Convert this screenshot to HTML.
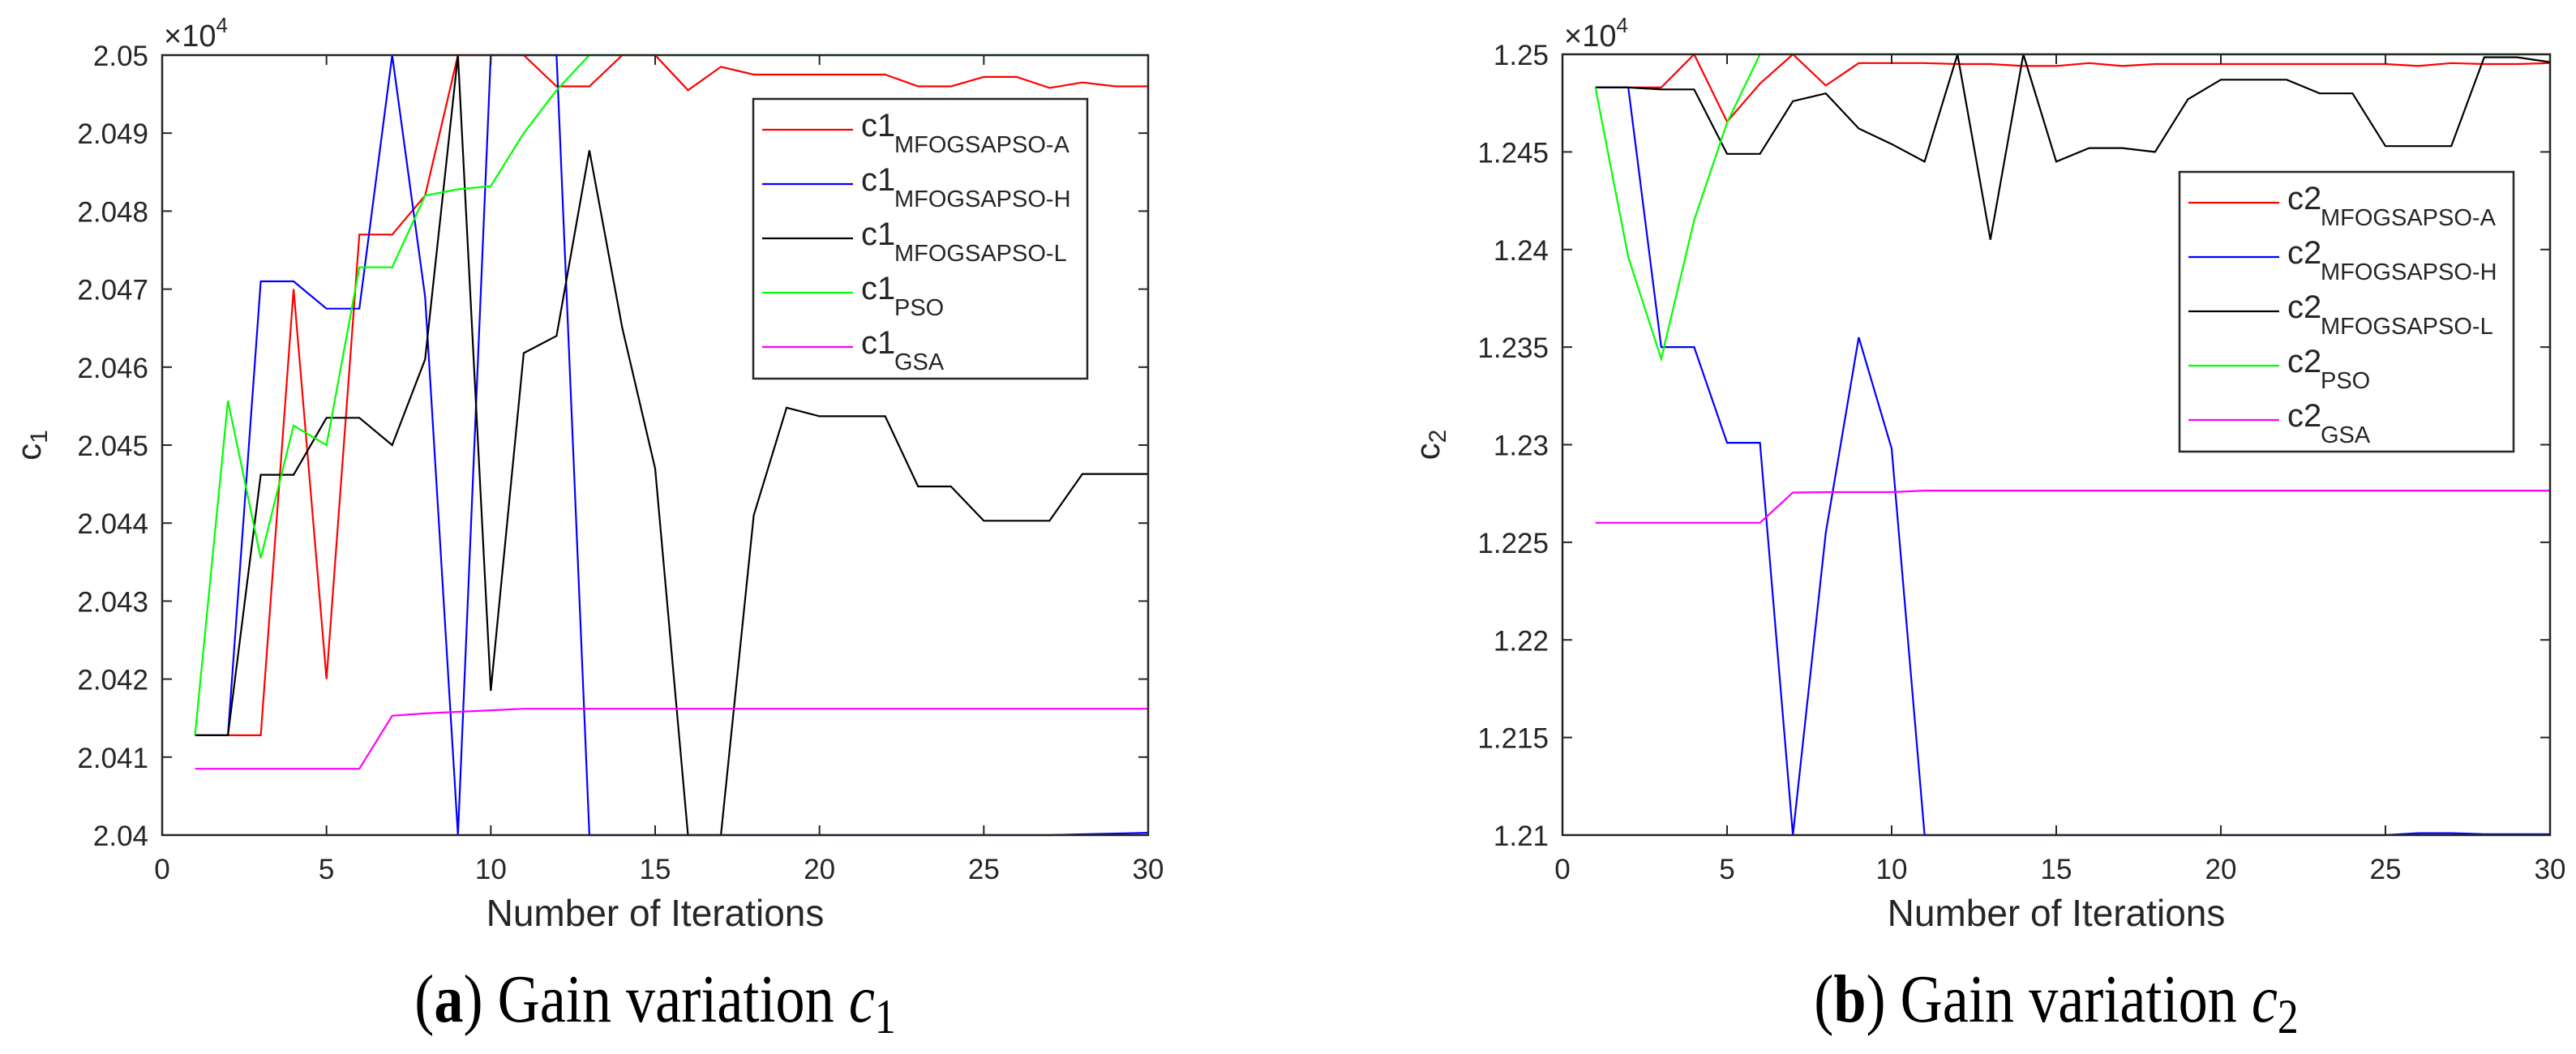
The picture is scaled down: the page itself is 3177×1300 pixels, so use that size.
<!DOCTYPE html>
<html><head><meta charset="utf-8"><style>
html,body{margin:0;padding:0;background:#fff;}
svg{display:block;}
</style></head><body>
<svg id="fig" width="3177" height="1300" viewBox="0 0 3177 1300" xmlns="http://www.w3.org/2000/svg" font-family="Liberation Sans, Arial, sans-serif"></svg>
<script>
const iterations = [1,2,3,4,5,6,7,8,9,10,11,12,13,14,15,16,17,18,19,20,21,22,23,24,25,26,27,28,29,30];
const c1A = [2.04128,2.04128,2.04128,2.0470,2.0420,2.0477,2.0477,2.0482,2.0500,2.0500,2.0500,2.0496,2.0496,2.0500,2.0500,2.04955,2.04985,2.04975,2.04975,2.04975,2.04975,2.04975,2.0496,2.0496,2.04972,2.04972,2.04958,2.04965,2.0496,2.0496];
const c1H = [2.04128,2.04128,2.0471,2.0471,2.04675,2.04675,2.0500,2.0469,2.0400,2.0500,2.0500,2.0500,2.0400,2.0400,2.0400,2.0400,2.0400,2.0400,2.0400,2.0400,2.0400,2.0400,2.0400,2.0400,2.0400,2.0400,2.0400,2.04001,2.04002,2.04003];
const c1L = [2.04128,2.04128,2.04462,2.04462,2.04535,2.04535,2.0450,2.0461,2.0500,2.04185,2.04618,2.0464,2.04878,2.0465,2.0447,2.0400,2.0400,2.0441,2.04548,2.04537,2.04537,2.04537,2.04447,2.04447,2.04403,2.04403,2.04403,2.04463,2.04463,2.04463];
const c1P = [2.04128,2.04557,2.04355,2.04525,2.0450,2.04728,2.04728,2.0482,2.04828,2.04832,2.0490,2.04955,2.0500,2.0500,2.0500,2.0500,2.0500,2.0500,2.0500,2.0500,2.0500,2.0500,2.0500,2.0500,2.0500,2.0500,2.0500,2.0500,2.0500,2.0500];
const c1G = [2.04085,2.04085,2.04085,2.04085,2.04085,2.04085,2.04153,2.04156,2.04158,2.0416,2.04162,2.04162,2.04162,2.04162,2.04162,2.04162,2.04162,2.04162,2.04162,2.04162,2.04162,2.04162,2.04162,2.04162,2.04162,2.04162,2.04162,2.04162,2.04162,2.04162];
const c2A = [1.2483,1.2483,1.2483,1.2500,1.24655,1.2485,1.2500,1.2484,1.24955,1.24955,1.24955,1.2495,1.2495,1.2494,1.2494,1.24955,1.2494,1.2495,1.2495,1.2495,1.2495,1.2495,1.2495,1.2495,1.2495,1.2494,1.24955,1.2495,1.2495,1.24955];
const c2H = [1.2483,1.2483,1.2350,1.2350,1.2301,1.2301,1.2100,1.2255,1.2355,1.2298,1.2100,1.2100,1.2100,1.2100,1.2100,1.2100,1.2100,1.2100,1.2100,1.2100,1.2100,1.2100,1.2100,1.2100,1.2100,1.2101,1.2101,1.21005,1.21005,1.21005];
const c2L = [1.2483,1.2483,1.2482,1.2482,1.2449,1.2449,1.2476,1.2480,1.2462,1.2454,1.2445,1.2500,1.2405,1.2500,1.2445,1.2452,1.2452,1.2450,1.2477,1.2487,1.2487,1.2487,1.2480,1.2480,1.2453,1.2453,1.2453,1.24985,1.24985,1.2496];
const c2P = [1.2483,1.2396,1.2344,1.2415,1.2465,1.2500,1.2500,1.2500,1.2500,1.2500,1.2500,1.2500,1.2500,1.2500,1.2500,1.2500,1.2500,1.2500,1.2500,1.2500,1.2500,1.2500,1.2500,1.2500,1.2500,1.2500,1.2500,1.2500,1.2500,1.2500];
const c2G = [1.2260,1.2260,1.2260,1.2260,1.2260,1.2260,1.22755,1.22757,1.22757,1.22757,1.22765,1.22765,1.22765,1.22765,1.22765,1.22765,1.22765,1.22765,1.22765,1.22765,1.22765,1.22765,1.22765,1.22765,1.22765,1.22765,1.22765,1.22765,1.22765,1.22765];
const xTickLabels = ["0","5","10","15","20","25","30"];
const y1TickLabels = ["2.04","2.041","2.042","2.043","2.044","2.045","2.046","2.047","2.048","2.049","2.05"];
const y2TickLabels = ["1.21","1.215","1.22","1.225","1.23","1.235","1.24","1.245","1.25"];
const seriesNames = ["MFOGSAPSO-A","MFOGSAPSO-H","MFOGSAPSO-L","PSO","GSA"];

const NS = "http://www.w3.org/2000/svg";
const svg = document.getElementById('fig');
const colors = ["#ff0000","#0000ff","#000000","#00ff00","#ff00ff"];
function mk(tag, attrs, parent){
  const e = document.createElementNS(NS, tag);
  for (const k in attrs) e.setAttribute(k, attrs[k]);
  (parent||svg).appendChild(e);
  return e;
}

function panel(opt){
  const g = mk('g', {});
  
  
  const {x0,x1,y0,y1,ymin,ymax} = opt;
  const sx = v => x0 + (v-0)/(30-0)*(x1-x0);
  const sy = v => y1 - (v-ymin)/(ymax-ymin)*(y1-y0);
  opt.series.forEach((arr, si) => {
    const pts = arr.map((v,i) => sx(iterations[i]).toFixed(1)+','+sy(v).toFixed(1)).join(' ');
    const pl = mk('polyline', {points: pts, fill:'none', stroke: colors[si], 'stroke-width': 2.2, 'stroke-linejoin':'miter'}, g);
    
    
  });
  const box = mk('rect', {x:x0, y:y0, width:x1-x0, height:y1-y0, fill:'none', stroke:'#262626', 'stroke-width':2.5}, g);
  
  
  xTickLabels.forEach((lab) => {
    const v = parseFloat(lab);
    const x = sx(v);
    mk('line', {x1:x, y1:y1, x2:x, y2:y1-12, stroke:'#262626','stroke-width':2}, g);
    mk('line', {x1:x, y1:y0, x2:x, y2:y0+12, stroke:'#262626','stroke-width':2}, g);
    const t = mk('text', {x:x, y:y1+54, 'text-anchor':'middle', 'font-size':35, fill:'#262626'}, g);
    t.textContent = lab;
    
    
  });
  opt.yTicks.forEach((lab) => {
    const v = parseFloat(lab);
    const y = sy(v);
    mk('line', {x1:x0, y1:y, x2:x0+12, y2:y, stroke:'#262626','stroke-width':2}, g);
    mk('line', {x1:x1, y1:y, x2:x1-12, y2:y, stroke:'#262626','stroke-width':2}, g);
    const t = mk('text', {x:x0-17, y:y+13, 'text-anchor':'end', 'font-size':35, fill:'#262626'}, g);
    t.textContent = lab;
    
    
  });
  const ex = mk('text', {x:x0+2, y:57, 'font-size':38, fill:'#262626'}, g);
  
  
  ex.appendChild(document.createTextNode('\u00d710'));
  const sup = mk('tspan', {'font-size':26, dy:-17}, ex); sup.textContent = '4';
  const xl = mk('text', {x:(x0+x1)/2, y:1142, 'text-anchor':'middle', 'font-size':46, fill:'#262626'}, g);
  xl.textContent = 'Number of Iterations';
  
  
  const yl = mk('text', {x:0, y:0, 'font-size':42, fill:'#262626', transform:`translate(${opt.ylx},${(y0+y1)/2}) rotate(-90)`, 'text-anchor':'middle'}, g);
  
  
  yl.appendChild(document.createTextNode('c'));
  const ys = mk('tspan', {'font-size':30, dy:8}, yl); ys.textContent = opt.prefix.slice(1);
  const L = opt.legend;
  const lg = mk('g', {}, g);
  
  
  mk('rect', {x:L.x, y:L.y, width:412, height:345, fill:'#fff', stroke:'#262626', 'stroke-width':2.5}, lg);
  seriesNames.forEach((nm, i) => {
    const ly = L.y + 38 + 67*i;
    const e = mk('g', {}, lg);
    
    
    mk('line', {x1:L.x+11, y1:ly, x2:L.x+123, y2:ly, stroke:colors[i], 'stroke-width':2.2}, e);
    const t = mk('text', {x:L.x+133, y:ly+8, 'font-size':40, fill:'#262626'}, e);
    t.textContent = opt.prefix;
    const s = mk('text', {x:L.x+174, y:ly+28, 'font-size':29, fill:'#262626'}, e);
    s.textContent = nm;
  });
  const cx = (x0+x1)/2;
  const cap = mk('text', {x:cx, y:1260, 'text-anchor':'middle', 'font-size':84, fill:'#000', 'font-family':'Liberation Serif, serif', transform:`translate(${cx},0) scale(0.86,1) translate(${-cx},0)`}, g);
  
  
  cap.appendChild(document.createTextNode('('));
  const b = mk('tspan', {'font-weight':'bold'}, cap); b.textContent = opt.letter;
  cap.appendChild(document.createTextNode(') Gain variation '));
  const it = mk('tspan', {'font-style':'italic'}, cap); it.textContent = 'c';
  const sb = mk('tspan', {'font-size':60, dy:14}, cap); sb.textContent = opt.prefix.slice(1);
}

panel({name:'chart-c1', prefix:'c1', letter:'a', x0:200, x1:1416, y0:68, y1:1030, ymin:2.04, ymax:2.05,
  series:[c1A,c1H,c1L,c1P,c1G], yTicks:y1TickLabels, ylx:50, legend:{x:929, y:122}});
panel({name:'chart-c2', prefix:'c2', letter:'b', x0:1927, x1:3145, y0:67, y1:1030, ymin:1.21, ymax:1.25,
  series:[c2A,c2H,c2L,c2P,c2G], yTicks:y2TickLabels, ylx:1775, legend:{x:2688, y:212}});
</script>
</body></html>
